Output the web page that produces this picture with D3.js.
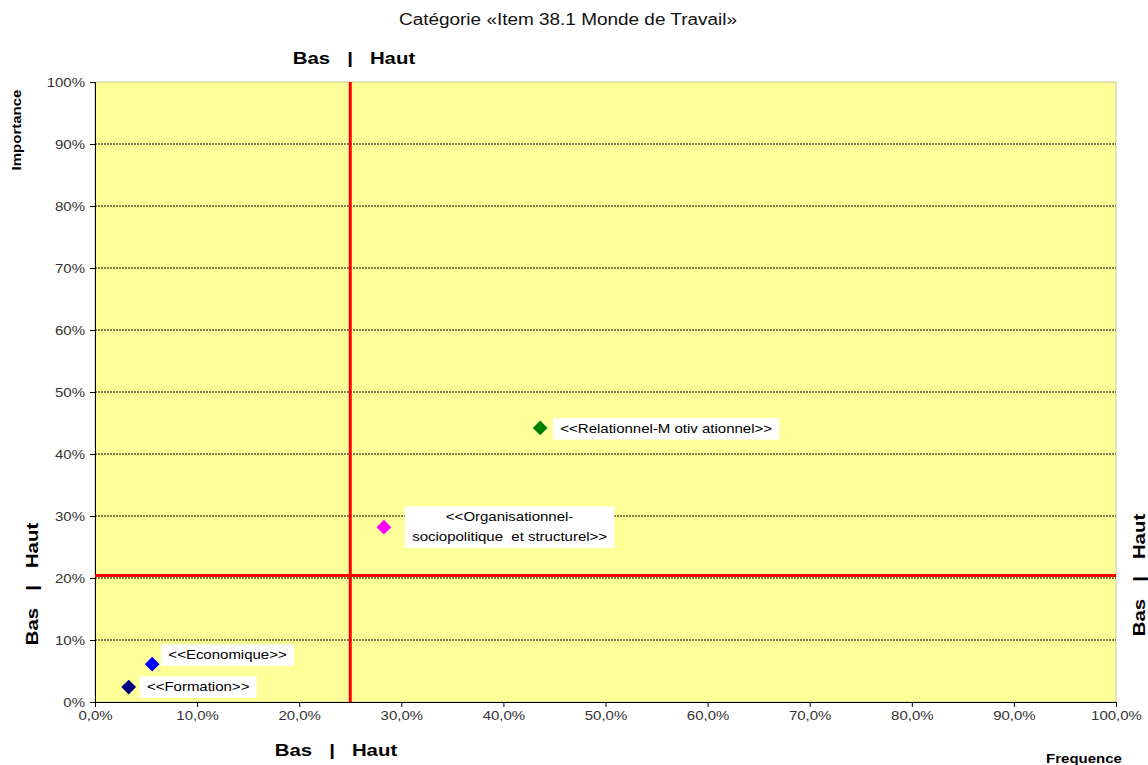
<!DOCTYPE html>
<html><head><meta charset="utf-8">
<script src="https://cdn.jsdelivr.net/npm/d3@7"></script>
<style>body{margin:0;background:#fff;font-family:Arial,"Liberation Sans",sans-serif;}</style>
</head><body>
<svg id="c" width="1148" height="765"></svg>
<script>
const names = ["<<Formation>>", "<<Economique>>", "<<Organisationnel-|sociopolitique  et structurel>>", "<<Relationnel-M otiv ationnel>>"];
const freq = [0.033, 0.056, 0.283, 0.436];
const importance = [0.024, 0.061, 0.282, 0.442];
const colors = ["#000080", "#0000FF", "#FF00FF", "#008000"];
const xTicks = [0,0.1,0.2,0.3,0.4,0.5,0.6,0.7,0.8,0.9,1.0];
const yTicks = [0,0.1,0.2,0.3,0.4,0.5,0.6,0.7,0.8,0.9,1.0];
const xSplit = 0.25, ySplit = 0.204;

const SX = 1.2; // horizontal stretch of the reference's text
const FF = "Arial, Liberation Sans, sans-serif";
const svg = d3.select("#c");
const L=95,R=1116,T=82,B=702;
const x = d3.scaleLinear().domain([0,1]).range([L,R]);
const y = d3.scaleLinear().domain([0,1]).range([B,T]);

svg.append("rect").attr("x",L).attr("y",T).attr("width",R-L).attr("height",B-T).attr("fill","#FFFF99").attr("stroke","#c8c8a0").attr("stroke-width",1);

// gridlines
svg.append("g").selectAll("line").data(yTicks.filter(d=>d>0&&d<1)).join("line")
 .attr("x1",L).attr("x2",R).attr("y1",d=>y(d)).attr("y2",d=>y(d))
 .attr("stroke","#000").attr("stroke-width",1).attr("stroke-dasharray","2,1");

const fmtY = d=>Math.round(d*100)+"%";
const fmtX = d=>(d*100).toFixed(1).replace(".",",")+"%";

const ya = svg.append("g").attr("transform",`translate(${L},0)`).call(d3.axisLeft(y).tickValues(yTicks).tickFormat(fmtY).tickSize(5).tickPadding(5));
const xa = svg.append("g").attr("transform",`translate(0,${B})`).call(d3.axisBottom(x).tickValues(xTicks).tickFormat(fmtX).tickSize(5).tickPadding(4));
[ya,xa].forEach(a=>{a.selectAll("text").attr("font-family",FF).attr("font-size",12.5).attr("fill","#333");
 a.selectAll("line,path").attr("stroke","#000");});
ya.selectAll(".tick text").attr("transform",function(){const xx=+d3.select(this).attr("x");return `translate(${xx},0) scale(${SX},1) translate(${-xx},0)`;});
xa.selectAll(".tick text").attr("transform",`scale(${SX},1)`);

// red split lines
svg.append("line").attr("x1",x(xSplit)).attr("x2",x(xSplit)).attr("y1",T).attr("y2",B).attr("stroke","#FF0000").attr("stroke-width",3);
svg.append("line").attr("x1",L).attr("x2",R).attr("y1",y(ySplit)).attr("y2",y(ySplit)).attr("stroke","#FF0000").attr("stroke-width",3);

// label boxes
const boxLeft = [11, 9, 21, 13];
const baseOff = [4, -5, -6, 5];
const g = svg.append("g");
names.forEach((n,i)=>{
  const lines = n.split("|");
  const px = x(freq[i]), py = y(importance[i]);
  const outer = g.append("g").attr("transform",`translate(${px+boxLeft[i]},${py+baseOff[i]})`);
  const inner = outer.append("g").attr("transform",`scale(${SX},1)`);
  const pad=6;
  const t = inner.append("text").attr("font-size",12.5).attr("fill","#000").attr("font-family",FF).attr("xml:space","preserve");
  lines.forEach((s,k)=>t.append("tspan").attr("x",0).attr("dy",k?20:0).text(s));
  if(lines.length>1){
    t.attr("text-anchor","middle");
    let bb = t.node().getBBox();
    t.selectAll("tspan").attr("x",bb.width/2+pad);
  } else {
    t.selectAll("tspan").attr("x",pad);
  }
  const bb = t.node().getBBox();
  inner.insert("rect","text").attr("x",bb.x-pad).attr("y",bb.y-4).attr("width",bb.width+pad*2).attr("height",bb.height+8).attr("fill","#fff");
});

// markers
svg.append("g").selectAll("path").data(freq).join("path")
 .attr("d",d3.symbol().type(d3.symbolDiamond2).size(140))
 .attr("transform",(d,i)=>`translate(${x(d)},${y(importance[i])})`)
 .attr("fill",(d,i)=>colors[i]);

// texts
function stext(xx,yy,rot){
  return svg.append("g").attr("transform",`translate(${xx},${yy}) rotate(${rot}) scale(${SX},1)`).append("text").attr("text-anchor","middle").attr("font-family",FF);
}
stext(568,25,0).attr("font-size",15.8).attr("fill","#111").text("Catégorie «Item 38.1 Monde de Travail»");
const bh = (s)=>s.attr("font-size",17).attr("font-weight","bold").attr("fill","#000").attr("xml:space","preserve").text("Bas   |   Haut");
bh(stext(354,64,0));
bh(stext(336,756,0));
bh(stext(38,584,-90));
bh(stext(1145,575,-90));
stext(21,130,-90).attr("font-size",12.5).attr("font-weight","bold").text("Importance");
stext(1084,763,0).attr("font-size",12.5).attr("font-weight","bold").text("Frequence");
</script>
</body></html>
